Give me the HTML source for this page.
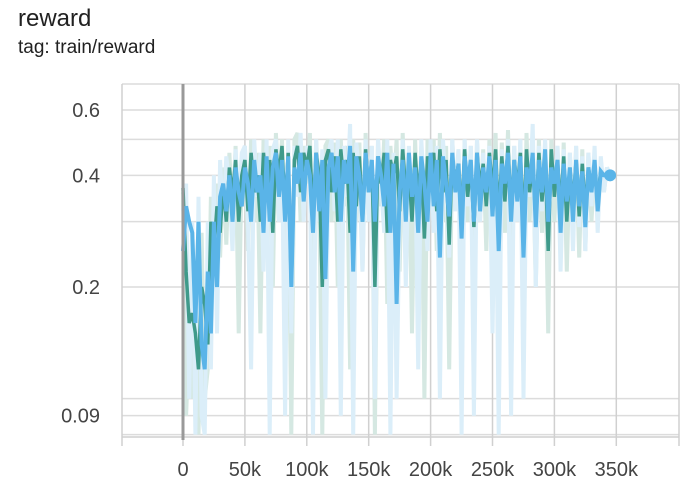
<!DOCTYPE html>
<html><head><meta charset="utf-8"><style>
body{margin:0;background:#fff;width:698px;height:486px;overflow:hidden;font-family:"Liberation Sans",sans-serif}
</style></head><body>
<svg width="698" height="486">
<text x="18" y="26" font-size="24" fill="#212121">reward</text>
<text x="18" y="53" font-size="19" fill="#212121">tag: train/reward</text>
<g id="grid"></g>
<g id="marks" clip-path="url(#clip)"></g>
<defs><clipPath id="clip"><rect x="122" y="84" width="557" height="352"/></clipPath></defs>
<g id="axes"></g>
</svg>
<script>
const stepSize = 2500;
const yTicks = [0.6, 0.4, 0.2, 0.09];
const yGrid = [0.6, 0.5, 0.4, 0.3, 0.2, 0.1, 0.09, 0.08];
const xTicks = [0, 50000, 100000, 150000, 200000, 250000, 300000, 350000];
const xLabels = ["0","50k","100k","150k","200k","250k","300k","350k"];
const blueRaw = [0.32,0.38,0.1,0.3,0.08,0.35,0.09,0.08,0.3,0.12,
0.4,0.15,0.44,0.3,0.45,0.38,0.25,0.47,0.33,0.46,
0.48,0.3,0.12,0.5,0.35,0.46,0.22,0.5,0.08,0.47,
0.5,0.3,0.47,0.09,0.5,0.15,0.48,0.35,0.52,0.3,
0.48,0.42,0.08,0.5,0.3,0.47,0.1,0.46,0.5,0.32,
0.5,0.09,0.48,0.35,0.55,0.08,0.49,0.4,0.22,0.5,
0.3,0.48,0.1,0.5,0.38,0.28,0.5,0.08,0.46,0.1,
0.32,0.5,0.2,0.48,0.3,0.46,0.12,0.5,0.35,0.25,
0.5,0.28,0.48,0.1,0.5,0.36,0.24,0.5,0.32,0.47,
0.08,0.5,0.33,0.48,0.09,0.5,0.3,0.46,0.33,0.48,
0.15,0.47,0.08,0.47,0.35,0.5,0.09,0.48,0.3,0.5,
0.1,0.46,0.35,0.55,0.2,0.48,0.32,0.5,0.25,0.46,
0.35,0.48,0.22,0.47,0.3,0.46,0.25,0.48,0.29,0.45,
0.25,0.46,0.33,0.48,0.28,0.45,0.36,0.42,0.4];
const tealRaw = [0.36,0.09,0.15,0.1,0.2,0.08,0.28,0.1,0.12,0.35,
0.2,0.38,0.24,0.42,0.26,0.46,0.3,0.48,0.15,0.44,
0.48,0.25,0.5,0.3,0.46,0.15,0.5,0.3,0.48,0.2,
0.52,0.35,0.5,0.22,0.48,0.08,0.5,0.52,0.3,0.48,
0.38,0.52,0.2,0.5,0.35,0.08,0.48,0.5,0.3,0.49,
0.2,0.5,0.33,0.48,0.12,0.5,0.3,0.49,0.22,0.52,
0.3,0.48,0.08,0.5,0.33,0.5,0.18,0.48,0.35,0.5,
0.22,0.52,0.3,0.46,0.15,0.5,0.28,0.48,0.1,0.5,
0.35,0.5,0.25,0.52,0.3,0.48,0.12,0.5,0.33,0.47,
0.22,0.5,0.3,0.48,0.2,0.5,0.32,0.47,0.25,0.5,
0.3,0.52,0.2,0.49,0.28,0.53,0.25,0.48,0.3,0.5,
0.18,0.52,0.3,0.48,0.2,0.5,0.28,0.49,0.15,0.5,
0.3,0.48,0.25,0.49,0.22,0.46,0.27,0.48,0.24,0.47,
0.25,0.46,0.3,0.44,0.3,0.44,0.36,0.42,0.4];
const tealSmooth = [0.37,0.22,0.16,0.17,0.15,0.12,0.2,0.18,0.14,0.3,
0.25,0.33,0.28,0.38,0.3,0.42,0.35,0.44,0.3,0.4,
0.44,0.32,0.46,0.36,0.4,0.3,0.46,0.35,0.44,0.28,
0.47,0.4,0.48,0.32,0.46,0.2,0.44,0.48,0.36,0.46,
0.42,0.48,0.3,0.46,0.4,0.2,0.44,0.47,0.36,0.45,
0.3,0.47,0.38,0.44,0.28,0.46,0.33,0.45,0.3,0.47,
0.36,0.44,0.2,0.45,0.38,0.46,0.28,0.44,0.4,0.45,
0.32,0.47,0.36,0.42,0.3,0.46,0.35,0.44,0.27,0.45,
0.4,0.46,0.32,0.47,0.36,0.44,0.26,0.45,0.38,0.43,
0.3,0.47,0.35,0.44,0.29,0.46,0.37,0.43,0.33,0.46,
0.36,0.47,0.3,0.45,0.34,0.48,0.32,0.44,0.37,0.46,
0.28,0.47,0.36,0.44,0.3,0.46,0.34,0.45,0.25,0.47,
0.35,0.44,0.32,0.45,0.3,0.42,0.33,0.44,0.31,0.43,
0.32,0.42,0.37,0.4,0.35,0.41,0.4,0.4,0.4];
const blueSmooth = [0.25,0.33,0.3,0.28,0.16,0.3,0.14,0.12,0.22,0.15,
0.3,0.2,0.35,0.38,0.32,0.4,0.3,0.42,0.36,0.33,
0.42,0.38,0.3,0.44,0.36,0.4,0.28,0.45,0.3,0.42,
0.46,0.35,0.44,0.3,0.45,0.2,0.42,0.38,0.46,0.34,
0.44,0.4,0.28,0.46,0.32,0.44,0.21,0.42,0.46,0.36,
0.45,0.3,0.44,0.38,0.48,0.22,0.45,0.4,0.3,0.46,
0.36,0.44,0.3,0.45,0.4,0.33,0.46,0.28,0.43,0.18,
0.36,0.44,0.3,0.46,0.35,0.42,0.28,0.45,0.38,0.3,
0.46,0.33,0.44,0.24,0.45,0.38,0.31,0.46,0.36,0.43,
0.27,0.45,0.38,0.44,0.3,0.46,0.32,0.42,0.36,0.45,
0.31,0.44,0.25,0.43,0.38,0.46,0.3,0.44,0.34,0.45,
0.24,0.42,0.38,0.46,0.29,0.44,0.36,0.47,0.3,0.42,
0.38,0.44,0.28,0.43,0.34,0.42,0.3,0.44,0.33,0.41,
0.29,0.42,0.36,0.44,0.32,0.41,0.4,0.4,0.4];

const NS="http://www.w3.org/2000/svg";
const X0=183, PX50=61.9, Y02=287, PXDEC=371;
const xs=v=>X0+v/50000*PX50;
const ys=v=>Y02-Math.log10(v/0.2)*PXDEC;
function mk(t,a,p){const e=document.createElementNS(NS,t);for(const k in a)e.setAttribute(k,a[k]);p.appendChild(e);return e;}
const grid=document.getElementById('grid'), marks=document.getElementById('marks'), axes=document.getElementById('axes');
yGrid.forEach(v=>{const l=mk('line',{x1:122,x2:679,y1:ys(v),y2:ys(v),stroke:'#dcdcdc','stroke-width':1.5},grid);

});
mk('line',{x1:122,x2:679,y1:84,y2:84,stroke:'#dcdcdc','stroke-width':1.5},grid);
xTicks.forEach(v=>{const l=mk('line',{x1:xs(v),x2:xs(v),y1:84,y2:446,stroke:'#d0d0d0','stroke-width':1.5},grid);

});
[122,679].forEach(x=>mk('line',{x1:x,x2:x,y1:84,y2:446,stroke:'#d0d0d0','stroke-width':1.5},grid));
mk('line',{x1:122,x2:679,y1:437,y2:437,stroke:'#cfcfcf','stroke-width':1.5},grid);
function path(arr,color,w,name){let d='';arr.forEach((v,i)=>{d+=(i?'L':'M')+xs(i*stepSize).toFixed(1)+','+ys(Math.max(v,0.075)).toFixed(1);});
const p=mk('path',{d:d,fill:'none',stroke:color,'stroke-width':w,'stroke-linejoin':'miter'},marks);

}
path(tealRaw,'#d5e8e2',4,'teal-raw-line');
path(blueRaw,'#dbeef9',4,'blue-raw-line');
path(tealSmooth,'#3f9a8a',3.5,'teal-smoothed-line');
path(blueSmooth,'#5ab4e8',4,'blue-smoothed-line');
const last=blueSmooth.length-1;
const c=mk('circle',{cx:xs(last*stepSize),cy:ys(blueSmooth[last]),r:6,fill:'#5ab4e8'},marks);


mk('line',{x1:X0,x2:X0,y1:84,y2:440,stroke:'#999','stroke-width':3},axes);
yTicks.forEach(v=>{const t=mk('text',{x:100,y:ys(v)+7,'font-size':20,fill:'#444','text-anchor':'end'},axes);t.textContent=String(v);

});
xTicks.forEach((v,i)=>{const t=mk('text',{x:xs(v),y:476,'font-size':20,fill:'#444','text-anchor':'middle'},axes);t.textContent=xLabels[i];

});
</script>
</body></html>
